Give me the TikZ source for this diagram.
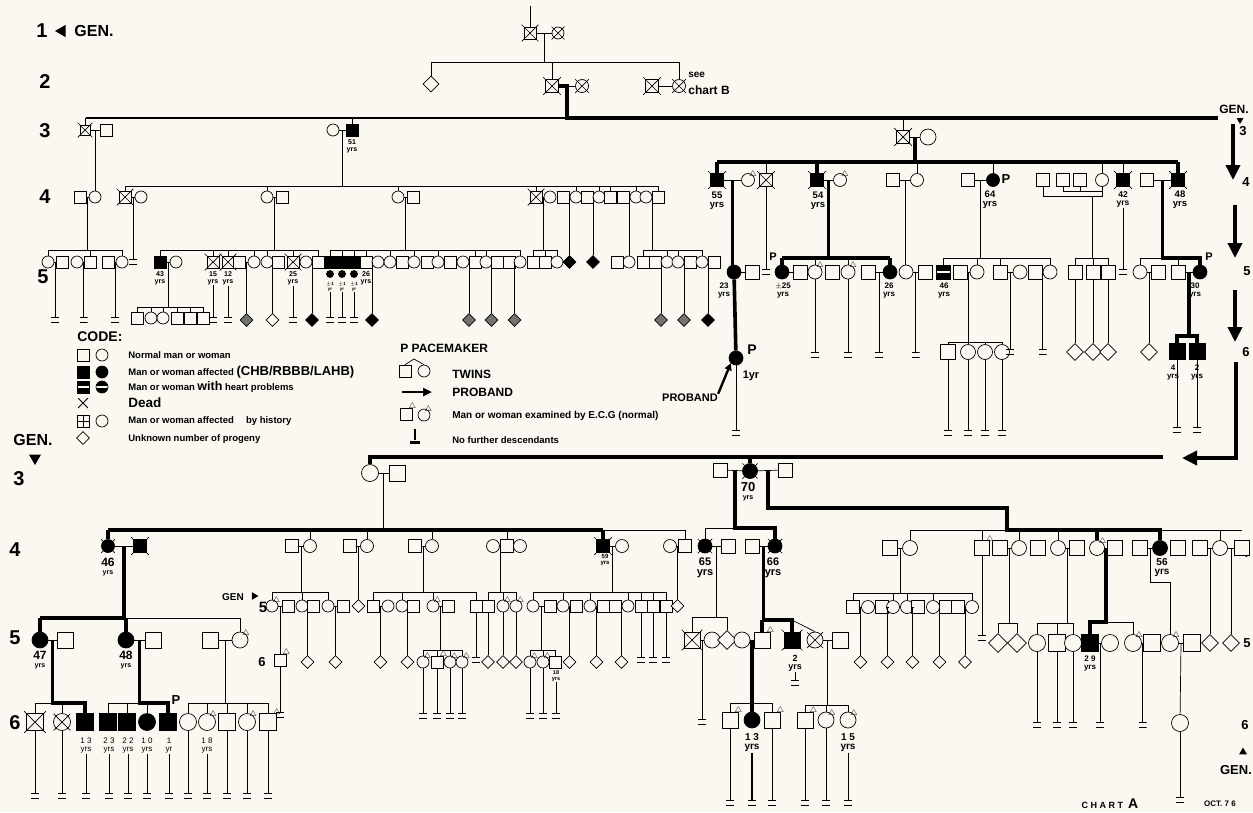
\documentclass[tikz,border=0pt]{standalone}
\usepackage{fontspec}
\setmainfont{Liberation Sans}
\usetikzlibrary{shapes.geometric,calc,arrows.meta}
\definecolor{paper}{RGB}{250,248,241}
\def\sz{12pt}
\def\dsz{13pt}
\tikzset{
  sym/.style={draw,line width=0.7pt,inner sep=0pt,minimum size=\sz,fill=paper},
  M/.style={sym,rectangle},
  F/.style={sym,circle},
  D/.style={sym,diamond,minimum size=\dsz},
  aD/.style={D,fill=black},
  gD/.style={D,fill=black!55},
  aM/.style={M,fill=black},
  aF/.style={F,fill=black},
  xx/.style={append after command={($(\tikzlastnode.north west)+(-2,-2)$) edge[line width=0.7pt] ($(\tikzlastnode.south east)+(2,2)$) ($(\tikzlastnode.north east)+(2,-2)$) edge[line width=0.7pt] ($(\tikzlastnode.south west)+(-2,2)$)}},
  dM/.style={M,xx}, dF/.style={F,xx}, daM/.style={aM,xx}, daF/.style={aF,xx},
  hM/.style={M,fill=black,path picture={\fill[paper] ([yshift=-1.3pt]path picture bounding box.west) rectangle ([yshift=1.3pt]path picture bounding box.east);}},
  hF/.style={F,fill=black,path picture={\fill[paper] ([yshift=-1.3pt]path picture bounding box.west) rectangle ([yshift=1.3pt]path picture bounding box.east);}},
  hiM/.style={M,path picture={\fill (path picture bounding box.center) circle (2.6pt); \draw (path picture bounding box.north) -- (path picture bounding box.south) (path picture bounding box.west) -- (path picture bounding box.east);}},
  hiF/.style={F,path picture={\fill (path picture bounding box.center) circle (3pt);}},
  hdF/.style={F,path picture={\fill (path picture bounding box.center) ++(0,-5) -- ++(5,5) -- ++(-5,5) -- ++(-5,-5) -- cycle;}},
  ecgl/.style={inner sep=0pt,anchor=south,yshift=-3pt,font=\fontsize{8}{8}\selectfont},
  ecg/.style={label={[ecgl]north east:$\triangle$}},
  eM/.style={M,ecg}, eF/.style={F,ecg},
  ND/.style={minimum width=8pt,minimum height=5pt,inner sep=0pt,path picture={\draw[line width=1.4pt] (path picture bounding box.north west) -- (path picture bounding box.north east) (path picture bounding box.south west) -- (path picture bounding box.south east);}},
  thk/.style={line width=3.6pt},
  bigarr/.style={line width=3.6pt,-{Triangle[length=15pt,width=14pt]}},
  age/.style={font=\bfseries\fontsize{7}{7}\selectfont,align=center,inner sep=0.5pt},
  ageb/.style={font=\bfseries\fontsize{9.5}{9}\selectfont,align=center,inner sep=0.5pt},
  big/.style={font=\bfseries\fontsize{20}{20}\selectfont,inner sep=0pt},
  gen/.style={font=\bfseries\fontsize{16}{16}\selectfont,inner sep=0pt},
  pp/.style={font=\bfseries\fontsize{11}{11}\selectfont,inner sep=0pt},
  lg/.style={font=\bfseries\fontsize{9.5}{10}\selectfont,anchor=west,inner sep=0pt},
  lgb/.style={font=\bfseries\fontsize{12}{12}\selectfont,anchor=west,inner sep=0pt},
  tri/.style={fill=black,regular polygon,regular polygon sides=3,inner sep=0pt},
}
\newcommand\mar[3]{\draw (#1) -- (#2) coordinate[midway] (#3);}
\newcommand\sib[4][]{\coordinate (tmpS) at (0,#3);\draw[#1] (#2) -- (#2 |- tmpS);\foreach \cc in {#4}{\draw[#1] (\cc.north) -- (\cc.north |- tmpS) -- (#2 |- tmpS);}}
\newcommand\nd[3]{\coordinate (tmpE) at (0,#3);\node[ND] (#2) at (#1 |- tmpE) {};\draw (#1) -- (#2.north);}
\newcommand\dn[4]{\coordinate (tmpE) at (0,#3);\node[#4] (#2) at (#1 |- tmpE) {};\draw (#1) -- (#2);}
\newcommand\row[3]{\foreach \xq/\sy [count=\nn] in {#3}{\node[\sy] (#1\nn) at (\xq,#2) {};}}
\newcommand\age[3]{\node[age] (#1) at (#2) {#3};}
\begin{document}
\begin{tikzpicture}[x=1pt,y=-1pt,line width=0.7pt]
\path[fill=paper] (0,0) rectangle (1253,812);

%================ generation labels
\node[big] (lab1) at (42,31) {1};
\node[tri,shape border rotate=90,minimum size=14pt] (lab1t) at (62,31) {};
\node[gen] (lab1g) at (94,31) {GEN.};
\node[big] (lab2) at (45,82) {2};
\node[big] (lab3) at (45,131) {3};
\node[big] (lab4) at (45,197) {4};
\node[big] (lab5) at (43,277) {5};
\node[gen] (labG2) at (33,440) {GEN.};
\node[tri,shape border rotate=180,minimum size=14pt] (labG2t) at (35,458) {};
\node[big] (lab3b) at (19,479) {3};
\node[big] (lab4b) at (15,550) {4};
\node[big] (lab5b) at (15,638) {5};
\node[big] (lab6b) at (15,723) {6};
% right side
\node[font=\bfseries\fontsize{12}{12}\selectfont,inner sep=0pt] (rg) at (1234,109) {GEN.};
\node[tri,shape border rotate=180,minimum size=8pt] (rgt) at (1240,120) {};
\node[font=\bfseries\fontsize{13}{13}\selectfont,inner sep=0pt] (r3) at (1243,131) {3};
\coordinate (ra1) at (1233,124); \coordinate (ra2) at (1233,180);
\draw[bigarr] (ra1) -- (ra2);
\node[font=\bfseries\fontsize{13}{13}\selectfont,inner sep=0pt] (r4) at (1246,182) {4};
\coordinate (ra3) at (1235,205); \coordinate (ra4) at (1235,258);
\draw[bigarr] (ra3) -- (ra4);
\node[font=\bfseries\fontsize{13}{13}\selectfont,inner sep=0pt] (r5) at (1247,271) {5};
\coordinate (ra5) at (1235,290); \coordinate (ra6) at (1235,342);
\draw[bigarr] (ra5) -- (ra6);
\node[font=\bfseries\fontsize{13}{13}\selectfont,inner sep=0pt] (r6) at (1246,352) {6};
\coordinate (ra7) at (1236,362); \coordinate (ra8) at (1182,458);
\draw[bigarr] (ra7) |- (ra8);
\node[font=\bfseries\fontsize{13}{13}\selectfont,inner sep=0pt] (r4b) at (1245,553) {4};
\node[font=\bfseries\fontsize{13}{13}\selectfont,inner sep=0pt] (r5b) at (1247,643) {5};
\node[font=\bfseries\fontsize{13}{13}\selectfont,inner sep=0pt] (r6b) at (1245,725) {6};
\node[tri,minimum size=9pt] (rgt2) at (1243,752) {};
\node[font=\bfseries\fontsize{13}{13}\selectfont,inner sep=0pt] (rg2) at (1236,770) {GEN.};
\node[font=\bfseries\fontsize{9}{9}\selectfont,inner sep=0pt] (chA) at (1110,804) {C H A R T\ \ {\fontsize{14}{14}\selectfont A}};
\node[font=\bfseries\fontsize{8}{8}\selectfont,inner sep=0pt] (oct) at (1220,804) {OCT. 7 6};

%================ generation 1 and 2
\coordinate (g1top) at (530,6);
\node[dM] (g1m) at (530,33) {};
\node[dF] (g1f) at (558,33) {};
\draw (g1top) -- (g1m);
\mar{g1m}{g1f}{g1c}
\begin{scope}
\def\sz{13pt}\def\dsz{16pt}
\node[D] (g2d) at (431,84) {};
\node[dM] (g2a) at (552,86) {};
\node[dF] (g2b) at (582,86) {};
\node[dM] (g2c) at (652,86) {};
\node[dF] (g2e) at (679,86) {};
\end{scope}
\sib{g1c}{62}{g2d,g2a,g2e}
\mar{g2a}{g2b}{g2ab}
\mar{g2c}{g2e}{g2ce}
\node[lg,font=\bfseries\fontsize{10}{10}\selectfont] (seet) at (688,75) {see};
\node[lg,font=\bfseries\fontsize{12}{12}\selectfont] (chb) at (688,90) {chart B};

%================ generation 3 (top)
\coordinate (g3L) at (86,118); \coordinate (g3J) at (567,118); \coordinate (g3R) at (1218,118);
\draw[line width=1.2pt] (g3L) -- (g3J);
\draw[thk] (g2a.east) -- (g2ab) -- (g2ab |- g3J) -- (g3R);
\node[dM,minimum size=10pt] (g3a) at (85,130) {};
\node[M] (g3b) at (106,130) {};
\draw (g3a) -- (g3a |- g3L);
\mar{g3a}{g3b}{g3ab}
\node[F] (g3c) at (333,130) {};
\node[aM] (g3d) at (352,130) {};
\age{t51}{352,146}{51\\yrs}
\draw (g3d) -- (g3d |- g3L);
\mar{g3c}{g3d}{g3cd}
\node[dM,minimum size=13pt] (g3e) at (903,137) {};
\node[F,minimum size=16pt] (g3f) at (928,137) {};
\draw (g3e) -- (g3e |- g3L);
\mar{g3e}{g3f}{g3ef}

%================ generation 4 (top left)
\node[M] (g4a) at (80,197) {};
\node[F] (g4b) at (95,197) {};
\draw (g4b) -- (g4b |- g3ab);
\mar{g4a}{g4b}{g4ab}
\node[dM] (g4c) at (125,197) {};
\node[F] (g4d) at (141,197) {};
\node[F] (g4e) at (267,197) {};
\node[M] (g4f) at (282,197) {};
\node[F] (g4g) at (398,197) {};
\node[M] (g4h) at (413,197) {};
\row{k-}{197}{536/dM,550/F,563/M,576/F,587/M,599/F,610/M,623/M,636/F,646/F,658/M}
\sib{g3cd}{186}{g4c,g4e,g4g,k-1,k-4,k-6,k-7,k-9,k-11}
\mar{g4c}{g4d}{g4cd}
\mar{g4e}{g4f}{g4ef}
\mar{g4g}{g4h}{g4gh}
\mar{k-1}{k-2}{kc1}
\mar{k-3}{k-4}{kc2}
\mar{k-5}{k-6}{kc3}
\mar{k-8}{k-9}{kc4}
\mar{k-10}{k-11}{kc5}

%================ generation 5 (top left)
\row{a-}{262}{48/F,62/M,77/F,90/M,108/M,122/F}
\sib{g4ab}{250}{a-1,a-4,a-6}
\mar{a-1}{a-2}{ac1}\mar{a-3}{a-4}{ac2}\mar{a-5}{a-6}{ac3}
\nd{ac1}{ea1}{320}\nd{ac2}{ea2}{320}\nd{ac3}{ea3}{320}
\nd{g4cd}{eg4cd}{262}

\row{b-}{262}{160/aM,176/F,213/dM,228/dM,239/M,254/F,267/F,278/M,293/dM,306/F,318/M}
\sib{g4ef}{250}{b-1,b-3,b-4,b-6,b-7,b-9,b-11}
\mar{b-1}{b-2}{bc1}\mar{b-5}{b-6}{bc2}\mar{b-7}{b-8}{bc3}\mar{b-10}{b-11}{bc4}
\age{t43}{160,278}{43\\yrs}
\age{t15}{213,278}{15\\yrs}
\age{t12}{228,278}{12\\yrs}
\age{t25}{293,278}{25\\yrs}
\row{c-}{318}{137/M,151/F,163/F,177/M,190/M,203/M}
\sib{bc1}{307}{c-1,c-2,c-3,c-4,c-5,c-6}
\nd{t15}{eb3}{320}\nd{t12}{eb4}{320}\nd{t25}{eb9}{320}
\dn{bc2}{db2}{320}{gD}\dn{bc3}{db3}{320}{D}\dn{bc4}{db4}{320}{aD}

\row{h-}{262}{330/aM,342/aM,354/aM,366/M,378/F,390/F,402/M,414/F,427/M,438/F,450/M,463/F,475/M,486/F,497/M,509/M,520/F}
\sib{g4gh}{250}{h-1,h-2,h-3,h-4,h-6,h-8,h-10,h-13,h-14,h-17}
\mar{h-4}{h-5}{hc1}\mar{h-12}{h-13}{hc2}\mar{h-14}{h-15}{hc3}\mar{h-16}{h-17}{hc4}
\node[aF,minimum size=7pt] (hb1) at (330,274) {};
\node[aF,minimum size=7pt] (hb2) at (342,274) {};
\node[aF,minimum size=7pt] (hb3) at (354,274) {};
\node[age,font=\bfseries\fontsize{4.5}{4.5}\selectfont] (hl1) at (330,287) {$\pm$1\\yr};
\node[age,font=\bfseries\fontsize{4.5}{4.5}\selectfont] (hl2) at (342,287) {$\pm$1\\yr};
\node[age,font=\bfseries\fontsize{4.5}{4.5}\selectfont] (hl3) at (354,287) {$\pm$1\\yr};
\age{t26a}{366,278}{26\\yrs}
\nd{hl1}{eh1}{320}\nd{hl2}{eh2}{320}\nd{hl3}{eh3}{320}
\dn{hc1}{dh1}{320}{aD}\dn{hc2}{dh2}{320}{gD}\dn{hc3}{dh3}{320}{gD}\dn{hc4}{dh4}{320}{gD}

\row{m-}{262}{533/M,545/M,557/F}
\sib{kc1}{250}{m-1,m-2,m-3}
\dn{kc2}{dk2}{262}{aD}
\dn{kc3}{dk3}{262}{aD}
\node[F] (n-1) at (629,262) {};
\node[M] (n-2) at (617,262) {};
\draw (kc4) -- (kc4 |- n-1.north);
\mar{n-2}{n-1}{nc1}
\row{p-}{262}{643/M,655/M,667/F,678/F,690/M,702/F,714/M}
\sib{kc5}{250}{p-1,p-3,p-4,p-6}
\mar{p-2}{p-3}{pc1}\mar{p-4}{p-5}{pc2}\mar{p-6}{p-7}{pc3}
\dn{pc1}{dp1}{320}{gD}\dn{pc2}{dp2}{320}{gD}\dn{pc3}{dp3}{320}{aD}

%================ generation 4 (top right)
\begin{scope}
\def\sz{13pt}
\row{r-}{180}{717/daM,748/eF,766/dM,817/daM,840/eF,893/M,917/F,968/M,993/aF,1043/M,1063/M,1080/M,1102/F,1123/daM,1147/M,1178/daM}
\end{scope}
\coordinate (r4S) at (0,162);
\draw[thk] (g3ef) -- (g3ef |- r4S);
\draw[thk] (r-1.north |- r4S) -- (r-16.north |- r4S);
\foreach \cc in {r-1,r-4,r-16}{\draw[thk] (\cc.north) -- (\cc.north |- r4S);}
\foreach \cc in {r-3,r-7,r-9,r-13,r-14}{\draw (\cc.north) -- (\cc.north |- r4S);}
\mar{r-1}{r-2}{rc1}\mar{r-4}{r-5}{rc2}\mar{r-6}{r-7}{rc3}\mar{r-8}{r-9}{rc4}\mar{r-15}{r-16}{rc5}
\node[ageb] (t55) at (717,201) {55\\yrs};
\node[ageb] (t54) at (818,201) {54\\yrs};
\node[ageb] (t64) at (990,200) {64\\yrs};
\node[pp,font=\bfseries\fontsize{13}{13}\selectfont] (pr9) at (1006,179) {P};
\node[age,font=\bfseries\fontsize{8.5}{8}\selectfont] (t42) at (1123,199) {42\\yrs};
\node[ageb] (t48) at (1180,200) {48\\yrs};
\coordinate (bkA) at (0,196); \coordinate (bkB) at (0,191);
\draw (r-10.south) -- (r-10.south |- bkA) -- (r-13.south |- bkA) -- (r-13.south);
\draw (r-11.south) -- (r-11.south |- bkB) -- (r-13.south |- bkB);
\draw (r-12.south) -- (r-12.south |- bkB);
\coordinate (bkC) at (1092,196);

%================ generation 5 (top right)
\begin{scope}
\def\sz{14pt}
\node[aF] (t-1) at (734,272) {};
\node[M] (t-2) at (752,272) {};
\row{u-}{272}{782/aF,800/M,815/eF,832/M,848/eF,868/M,890/aF}
\node[hiF] (v-1) at (906,272) {};
\node[M] (v-2) at (925,272) {};
\row{w-}{272}{943/hM,960/M,977/F,1000/M,1020/F,1035/M,1050/F}
\row{s-}{272}{1075/M,1093/M,1108/M}
\row{y-}{272}{1140/F,1158/M,1178/M,1200/aF}
\node[aF] (pr) at (736,358) {};
\end{scope}
\draw[thk] (rc1) -- (rc1 |- t-1.north);
\mar{t-1}{t-2}{tc1}
\draw[thk] (t-1) -- (pr);
\node[age,font=\bfseries\fontsize{8}{8}\selectfont] (t23) at (724,291) {23\\yrs};
\node[pp,font=\bfseries\fontsize{14}{14}\selectfont] (prP) at (752,350) {P};
\node[pp] (pr1) at (751,376) {1yr};
\nd{pr}{epr}{433}
\node[font=\bfseries\fontsize{11}{11}\selectfont,inner sep=0pt] (prt) at (690,398) {PROBAND};
\draw[-{Triangle[length=7pt,width=7pt]},line width=2.4pt] (prt.north east) -- (pr.south west);
\nd{r-3}{er3}{272}
% rc2 family
\coordinate (uS) at (0,258);
\draw[thk] (rc2) -- (rc2 |- uS);
\draw[thk] (u-1.north |- uS) -- (u-7.north |- uS);
\draw[thk] (u-1.north) -- (u-1.north |- uS);
\draw[thk] (u-7.north) -- (u-7.north |- uS);
\draw (u-3.north) -- (u-3.north |- uS);
\draw (u-5.north) -- (u-5.north |- uS);
\mar{u-1}{u-2}{uc1}\mar{u-6}{u-7}{uc3}
\node[pp] (uP) at (773,257) {P};
\node[age,font=\bfseries\fontsize{8}{8}\selectfont] (t25b) at (783,291) {$\pm$25\\yrs};
\node[age,font=\bfseries\fontsize{8}{8}\selectfont] (t26b) at (889,291) {26\\yrs};
\nd{u-3}{eu3}{355}\nd{u-5}{eu5}{355}\nd{uc3}{eu7}{355}
% rc3
\draw (rc3) -- (rc3 |- v-1.north);
\mar{v-1}{v-2}{vc1}
\nd{vc1}{ev1}{355}
% rc4
\sib{rc4}{258}{w-1,w-3,w-4,w-7}
\mar{w-2}{w-3}{wc1}\mar{w-4}{w-5}{wc2}\mar{w-6}{w-7}{wc3}
\node[age,font=\bfseries\fontsize{8}{8}\selectfont] (t46a) at (944,291) {46\\yrs};
\begin{scope}
\def\sz{15pt}
\row{x-}{352}{948/M,968/F,985/F,1002/F}
\end{scope}
\sib{wc1}{342}{x-1,x-2,x-3,x-4}
\foreach \cc in {1,2,3,4}{\nd{x-\cc}{ex-\cc}{433}}
\nd{wc2}{ew2}{352}\nd{wc3}{ew3}{352}
% bracket family
\sib{bkC}{258}{s-1,s-2,s-3}
\begin{scope}
\def\dsz{17pt}
\dn{s-1}{ds1}{352}{D}\dn{s-2}{ds2}{352}{D}\dn{s-3}{ds3}{352}{D}
\end{scope}
\nd{t42}{er14}{272}
% rc5 family
\coordinate (yS) at (0,258);
\draw[thk] (rc5) -- (rc5 |- yS) -- (y-4.north |- yS) -- (y-4.north);
\draw (rc5 |- yS) -- (y-1.north |- yS) -- (y-1.north);
\draw (y-3.north) -- (y-3.north |- yS);
\mar{y-1}{y-2}{yc1}\mar{y-3}{y-4}{yc2}
\node[pp] (yP) at (1209,257) {P};
\node[age,font=\bfseries\fontsize{8}{8}\selectfont] (t30) at (1195,291) {30\\yrs};
\begin{scope}
\def\dsz{17pt}
\dn{yc1}{dy1}{352}{D}
\end{scope}
\begin{scope}
\def\sz{16pt}
\row{z-}{351}{1177/aM,1197/aM}
\end{scope}
\coordinate (zS) at (0,336);
\draw[thk] (yc2) -- (yc2 |- zS);
\draw[thk] (z-1.north) -- (z-1.north |- zS) -- (z-2.north |- zS) -- (z-2.north);
\node[age,font=\bfseries\fontsize{8}{8}\selectfont] (t4) at (1173,373) {4\\yrs};
\node[age,font=\bfseries\fontsize{8}{8}\selectfont] (t2) at (1197,373) {2\\yrs};
\nd{z-1}{ez1}{430}\nd{z-2}{ez2}{430}

%================ legend
\node[lgb,font=\bfseries\fontsize{14}{14}\selectfont] (code) at (77,337) {CODE:};
\node[M] (lg1a) at (83,355) {}; \node[F] (lg1b) at (102,355) {};
\node[lg] (lt1) at (128,355) {Normal man or woman};
\node[aM] (lg2a) at (83,372) {}; \node[aF] (lg2b) at (102,372) {};
\node[lg] (lt2) at (128,372) {Man or woman affected {\fontsize{13}{13}\selectfont(CHB/RBBB/LAHB)}};
\node[hM] (lg3a) at (83,387) {}; \node[hF] (lg3b) at (102,387) {};
\node[lg] (lt3) at (128,387) {Man or woman {\fontsize{12.5}{12}\selectfont with} heart problems};
\node[minimum size=10pt,inner sep=0pt,path picture={\draw[line width=0.9pt] (path picture bounding box.north west) -- (path picture bounding box.south east) (path picture bounding box.north east) -- (path picture bounding box.south west);}] (lg4a) at (83,403) {};
\node[lgb,font=\bfseries\fontsize{13.5}{13}\selectfont] (lt4) at (128,403) {Dead};
\node[hiM] (lg5a) at (83,421) {}; \node[hiF] (lg5b) at (102,421) {};
\node[lg] (lt5) at (128,421) {Man or woman affected \quad by history};
\node[D] (lg6a) at (83,438) {};
\node[lg] (lt6) at (128,439) {Unknown number of progeny};
\node[lgb] (lpm) at (400,348) {P PACEMAKER};
\node[M] (tw1) at (405,371) {}; \node[F] (tw2) at (424,371) {};
\coordinate (twA) at (414,359);
\draw (tw1.north) -- (twA) -- (tw2.north);
\node[lgb] (ltw) at (452,374) {TWINS};
\coordinate (pa1) at (402,392); \coordinate (pa2) at (432,392);
\draw[-{Triangle[length=9pt,width=8pt]},line width=2.4pt] (pa1) -- (pa2);
\node[lgb] (lpb) at (452,392) {PROBAND};
\node[eM] (ec1) at (406,414) {}; \node[eF] (ec2) at (424,415) {};
\node[lg,font=\bfseries\fontsize{10}{10}\selectfont] (lec) at (452,416) {Man or woman examined by E.C.G (normal)};
\node[minimum width=10pt,minimum height=3pt,inner sep=0pt,fill=black] (nfb) at (415,442) {};
\coordinate (nft) at (415,429);
\draw[line width=1.6pt] (nft) -- (nfb.north);
\node[lg] (lnf) at (452,440) {No further descendants};

%================ lower part: generation 3
\coordinate (l3S) at (0,457);
\coordinate (l3L) at (368,457); \coordinate (l3R) at (1163,457);
\draw[thk] (l3L) -- (l3R);
\node[F,minimum size=17pt] (l3a) at (370,473) {};
\node[M,minimum size=16pt] (l3b) at (397,473) {};
\draw[thk] (l3a) -- (l3a |- l3S);
\mar{l3a}{l3b}{l3ab}
\node[M,minimum size=14pt] (l3c) at (720,470) {};
\node[daF,minimum size=15pt] (l3d) at (750,471) {};
\node[M,minimum size=14pt] (l3e) at (785,470) {};
\draw[thk] (l3d) -- (l3d |- l3S);
\mar{l3c}{l3d}{l3cd}
\mar{l3d}{l3e}{l3de}
\node[age,font=\bfseries\fontsize{13}{10}\selectfont] (t70) at (748,492) {70\\[-2pt]{\fontsize{7}{7}\selectfont yrs}};

%================ generation 4 lower left
\begin{scope}
\def\sz{13pt}
\row{L-}{546}{108/daF,140/daM,292/M,310/F,350/M,367/F,415/M,432/F,493/F,507/M,520/F,603/daM,622/F,670/F,685/M}
\end{scope}
\coordinate (L4S) at (0,530);
\draw (l3ab) -- (l3ab |- L4S);
\draw[thk] (L-1.north |- L4S) -- (L-12.north |- L4S);
\draw (L-12.north |- L4S) -- (L-15.north |- L4S);
\foreach \cc in {L-1,L-12}{\draw[thk] (\cc.north) -- (\cc.north |- L4S);}
\foreach \cc in {L-4,L-6,L-8,L-10,L-15}{\draw (\cc.north) -- (\cc.north |- L4S);}
\mar{L-1}{L-2}{Lc1}\mar{L-3}{L-4}{Lc2}\mar{L-5}{L-6}{Lc3}\mar{L-7}{L-8}{Lc4}
\mar{L-9}{L-10}{Lc5}\mar{L-10}{L-11}{Lc5b}\mar{L-12}{L-13}{Lc6}\mar{L-14}{L-15}{Lc7}
\node[age,font=\bfseries\fontsize{12}{9}\selectfont] (t46b) at (108,567) {46\\[-1pt]{\fontsize{7}{7}\selectfont yrs}};
\node[age,font=\bfseries\fontsize{6}{6}\selectfont] (t59) at (605,560) {59\\yrs};

% generation 5 lower left
\begin{scope}
\def\sz{16pt}
\row{M-}{640}{40/aF,65/M,126/aF,153/M,210/M,240/eF}
\end{scope}
\coordinate (M5S) at (0,618);
\draw[thk] (Lc1) -- (Lc1 |- M5S);
\draw[thk] (M-1.north |- M5S) -- (M-3.north |- M5S);
\draw (M-3.north |- M5S) -- (M-6.north |- M5S) -- (M-6.north);
\draw[thk] (M-1.north) -- (M-1.north |- M5S);
\draw[thk] (M-3.north) -- (M-3.north |- M5S);
\mar{M-1}{M-2}{Mc1}\mar{M-3}{M-4}{Mc2}\mar{M-5}{M-6}{Mc3}
\node[age,font=\bfseries\fontsize{12}{9}\selectfont] (t47) at (40,660) {47\\[-1pt]{\fontsize{7}{7}\selectfont yrs}};
\node[age,font=\bfseries\fontsize{12}{9}\selectfont] (t48b) at (126,660) {48\\[-1pt]{\fontsize{7}{7}\selectfont yrs}};
% generation 6 lower left
\begin{scope}
\def\sz{17pt}
\row{N-}{722}{35/dM,62/dF,85/aM,108/aM,127/aM,147/aF,168/aM,188/F,207/eF,227/M,247/eF,268/eM}
\end{scope}
\coordinate (N6S) at (0,703);
\draw[thk] (Mc1) -- (Mc1 |- N6S) -- (N-3.north |- N6S) -- (N-3.north);
\draw (N-1.north) -- (N-1.north |- N6S) -- (Mc1 |- N6S);
\draw (N-2.north) -- (N-2.north |- N6S);
\draw[thk] (Mc2) -- (Mc2 |- N6S) -- (N-7.north |- N6S) -- (N-7.north);
\draw (N-4.north) -- (N-4.north |- N6S) -- (Mc2 |- N6S);
\draw (N-5.north) -- (N-5.north |- N6S);
\draw (N-6.north) -- (N-6.north |- N6S);
\sib{Mc3}{703}{N-8,N-9,N-10,N-11,N-12}
\node[pp,font=\bfseries\fontsize{13}{13}\selectfont] (NP) at (176,700) {P};
\node[age,font=\fontsize{8}{8}\selectfont] (t13a) at (86,746) {1 3\\yrs};
\node[age,font=\fontsize{8}{8}\selectfont] (t23b) at (109,746) {2 3\\yrs};
\node[age,font=\fontsize{8}{8}\selectfont] (t22) at (128,746) {2 2\\yrs};
\node[age,font=\fontsize{8}{8}\selectfont] (t10) at (147,746) {1 0\\yrs};
\node[age,font=\fontsize{8}{8}\selectfont] (t1) at (169,746) {1\\yr};
\node[age,font=\fontsize{8}{8}\selectfont] (t18) at (207,746) {1 8\\yrs};
\nd{N-1}{eN1}{796}\nd{N-2}{eN2}{796}\nd{t13a}{eN3}{796}\nd{t23b}{eN4}{796}
\nd{t22}{eN5}{796}\nd{t10}{eN6}{796}\nd{t1}{eN7}{796}\nd{N-8}{eN8}{796}
\nd{t18}{eN9}{796}\nd{N-10}{eN10}{796}\nd{N-11}{eN11}{796}\nd{N-12}{eN12}{796}

% generation 5 middle
\row{Q-}{606}{272/eF,288/M,302/F,313/M,328/F,343/M}
\sib{Lc2}{592}{Q-1,Q-3,Q-5}
\mar{Q-1}{Q-2}{Qc1}\mar{Q-3}{Q-4}{Qc2}\mar{Q-5}{Q-6}{Qc3}
\dn{Qc1}{q6}{660}{eM}
\nd{q6}{eq6}{715}
\dn{Qc2}{dq2}{662}{D}\dn{Qc3}{dq3}{662}{D}
\node[font=\bfseries\fontsize{10}{10}\selectfont,inner sep=0pt] (gm) at (233,597) {GEN};
\node[tri,shape border rotate=-90,minimum size=9pt] (gmt) at (254,596) {};
\node[font=\bfseries\fontsize{15}{15}\selectfont,inner sep=0pt] (gm5) at (263,607) {5};
\node[font=\bfseries\fontsize{13}{13}\selectfont,inner sep=0pt] (gm6) at (262,662) {6};
\dn{Lc3}{dL3}{606}{D}
\row{R-}{606}{373/M,388/F,402/F,413/M,433/eF,448/M,476/M}
\sib{Lc4}{592}{R-1,R-3,R-5,R-7}
\mar{R-1}{R-2}{Rc1}\mar{R-3}{R-4}{Rc2}\mar{R-5}{R-6}{Rc3}
\dn{Rc1}{dR1}{662}{D}\dn{Rc2}{dR2}{662}{D}
\row{S-}{662}{423/eF,437/eM,450/eF,462/eF}
\sib{Rc3}{650}{S-1,S-2,S-3,S-4}
\foreach \cc in {1,2,3,4}{\nd{S-\cc}{eS-\cc}{716}}
\nd{R-7}{eR7}{660}
\row{T-}{606}{488/M,503/eF,516/eF}
\sib{Lc5}{592}{T-1,T-2,T-3}
\foreach \cc in {1,2,3}{\dn{T-\cc}{dT-\cc}{662}{D}}
\row{U-}{606}{533/F,550/M,563/F,576/M,590/F,603/M,615/M,628/F,641/M,653/M,666/M}
\sib{Lc6}{592}{U-1,U-3,U-5,U-8,U-9,U-10,U-11}
\mar{U-1}{U-2}{Uc1}\mar{U-3}{U-4}{Uc2}\mar{U-5}{U-6}{Uc3}\mar{U-7}{U-8}{Uc4}
\row{V-}{662}{530/eF,543/eF,555/M}
\sib{Uc1}{650}{V-1,V-2,V-3}
\node[age,font=\bfseries\fontsize{5.5}{5.5}\selectfont] (t18b) at (556,676) {18\\yrs};
\nd{V-1}{eV1}{716}\nd{V-2}{eV2}{716}\nd{t18b}{eV3}{716}
\dn{Uc2}{dU2}{662}{D}\dn{Uc3}{dU3}{662}{D}\dn{Uc4}{dU4}{662}{D}
\nd{U-9}{eU9}{660}\nd{U-10}{eU10}{660}\nd{U-11}{eU11}{660}
\dn{Lc7}{dL7}{606}{D}

%================ 70 yrs family
\begin{scope}
\def\sz{14pt}
\row{W-}{546}{705/daF,728/M,752/M,775/daF}
\end{scope}
\coordinate (W4S) at (0,528);
\draw[thk] (l3cd) -- (l3cd |- W4S) -- (W-4.north |- W4S) -- (W-4.north);
\draw (W-1.north) -- (W-1.north |- W4S) -- (l3cd |- W4S);
\mar{W-1}{W-2}{Wc1}\mar{W-3}{W-4}{Wc2}
\node[ageb,font=\bfseries\fontsize{11}{10}\selectfont] (t65) at (705,568) {65\\yrs};
\node[ageb,font=\bfseries\fontsize{11}{10}\selectfont] (t66) at (773,568) {66\\yrs};
\begin{scope}
\def\sz{16pt}\def\dsz{19pt}
\row{X-}{640}{692/dM,712/F,727/D,742/F,762/eM,792/daM,815/dF,840/M}
\end{scope}
\sib{Wc1}{617}{X-1,X-3}
\coordinate (X5S) at (0,620);
\draw[thk] (Wc2) -- (Wc2 |- X5S) -- (X-6.north |- X5S) -- (X-6.north);
\draw[thk] (X-5.north) -- (X-5.north |- X5S);
\draw (X-6.north |- X5S) -- (X-7.north);
\mar{X-1}{X-2}{Xc1}\mar{X-4}{X-5}{Xc4}\mar{X-7}{X-8}{Xc7}
\nd{Xc1}{eX1}{722}
\node[age,font=\bfseries\fontsize{9}{8}\selectfont] (t2y) at (795,663) {2\\yrs};
\nd{t2y}{eX6}{683}
\begin{scope}
\def\sz{16pt}
\row{Y-}{720}{730/eM,752/aF,772/eM}
\row{Z-}{720}{805/eM,826/eF,848/eF}
\end{scope}
\coordinate (Y6S) at (0,703);
\draw[thk] (Xc4) -- (Xc4 |- Y6S);
\draw[thk] (Y-2.north) -- (Y-2.north |- Y6S);
\draw (Y-1.north) -- (Y-1.north |- Y6S) -- (Y-3.north |- Y6S) -- (Y-3.north);
\node[age,font=\bfseries\fontsize{10}{9}\selectfont] (t13b) at (752,743) {1 3\\yrs};
\coordinate (tmpE) at (0,803);
\node[ND] (eY2) at (t13b |- tmpE) {};
\draw[line width=1.8pt] (t13b) -- (eY2.north);
\nd{Y-1}{eY1}{803}\nd{Y-3}{eY3}{803}
\sib{Xc7}{705}{Z-1,Z-2,Z-3}
\node[age,font=\bfseries\fontsize{10}{9}\selectfont] (t15b) at (848,743) {1 5\\yrs};
\nd{Z-1}{eZ1}{803}\nd{Z-2}{eZ2}{803}\nd{t15b}{eZ3}{803}

%================ generation 4 lower right
\begin{scope}
\def\sz{15pt}
\row{AA-}{548}{890/M,910/F,982/eM,1000/M,1019/hdF,1038/M,1058/F,1077/M,1097/eF,1115/M,1140/M,1160/aF,1178/M,1200/M,1220/F,1242/M}
\end{scope}
\coordinate (A4S) at (0,530);
\coordinate (bendA) at (1007,508);
\draw[thk] (l3de) -- (l3de |- bendA) -- (bendA) -- (bendA |- A4S) -- (AA-12.north |- A4S) -- (AA-12.north);
\draw (AA-2.north |- A4S) -- (AA-16.north |- A4S);
\draw[thk] (AA-9.north) -- (AA-9.north |- A4S);
\foreach \cc in {AA-2,AA-3,AA-5,AA-7,AA-15}{\draw (\cc.north) -- (\cc.north |- A4S);}
\mar{AA-1}{AA-2}{AAc1}\mar{AA-4}{AA-5}{AAc2}\mar{AA-7}{AA-8}{AAc3}\mar{AA-9}{AA-10}{AAc4}
\mar{AA-11}{AA-12}{AAc5}\mar{AA-14}{AA-15}{AAc6}\mar{AA-15}{AA-16}{AAc7}
\node[ageb,font=\bfseries\fontsize{10}{9}\selectfont] (t56) at (1162,568) {56\\yrs};
\begin{scope}
\def\sz{13pt}
\row{BB-}{607}{853/M,868/F,882/M,893/F,907/F,918/M,933/F,946/M,958/M,972/F}
\end{scope}
\sib{AAc1}{593}{BB-1,BB-4,BB-5,BB-7,BB-10}
\mar{BB-1}{BB-2}{Bc1}\mar{BB-3}{BB-4}{Bc2}\mar{BB-5}{BB-6}{Bc3}\mar{BB-7}{BB-8}{Bc4}\mar{BB-9}{BB-10}{Bc5}
\foreach \cc in {1,2,3,4,5}{\dn{Bc\cc}{dB\cc}{662}{D}}
\nd{AA-3}{eAA3}{638}
\begin{scope}
\def\sz{17pt}\def\dsz{19pt}
\row{CC-}{643}{998/D,1017/D}
\row{DD-}{643}{1037/F,1057/M,1073/F}
\row{EE-}{643}{1090/aM,1110/F,1133/eF,1152/M}
\node[hdF,ecg] (FF-1) at (1170,643) {};
\node[M] (FF-2) at (1192,643) {};
\node[F] (GG) at (1180,723) {};
\end{scope}
\sib{AAc2}{623}{CC-1,CC-2}
\sib{AAc3}{623}{DD-1,DD-2,DD-3}
\foreach \cc in {1,2,3}{\nd{DD-\cc}{eDD\cc}{725}}
\coordinate (E5S) at (0,622);
\draw[thk] (AAc4) -- (AAc4 |- E5S) -- (EE-1.north |- E5S) -- (EE-1.north);
\draw (AAc4 |- E5S) -- (EE-3.north |- E5S) -- (EE-3.north);
\mar{EE-1}{EE-2}{Ec1}\mar{EE-3}{EE-4}{Ec2}
\node[age,font=\bfseries\fontsize{8}{8}\selectfont] (t29) at (1090,664) {2 9\\yrs};
\nd{Ec1}{eE1}{725}\nd{Ec2}{eE2}{725}
\coordinate (kk) at (0,582);
\draw (AAc5) -- (AAc5 |- kk) -- (FF-1.north |- kk) -- (FF-1.north);
\mar{FF-1}{FF-2}{Ffc}
\draw (Ffc) -- (GG);
\nd{GG}{eGG}{800}
\begin{scope}
\def\dsz{17pt}
\dn{AAc6}{dA6}{643}{D}\dn{AAc7}{dA7}{643}{D}
\end{scope}
\end{tikzpicture}
\end{document}
